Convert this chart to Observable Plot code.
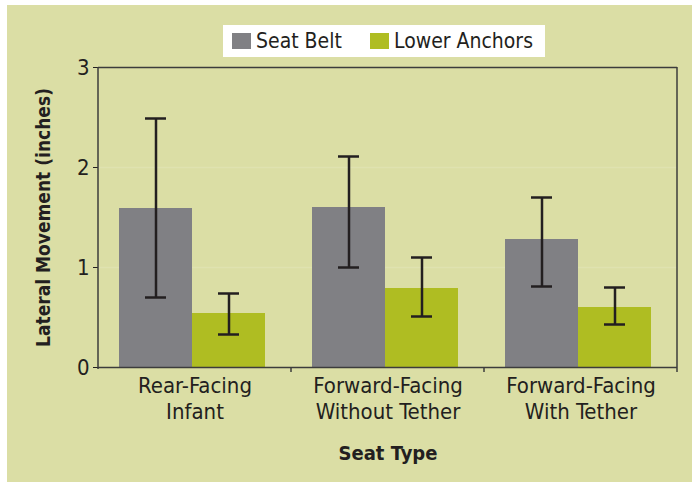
<!DOCTYPE html>
<html>
<head>
<meta charset="utf-8">
<script src="https://cdn.jsdelivr.net/npm/d3@7"></script>
<script src="https://cdn.jsdelivr.net/npm/@observablehq/plot@0.6"></script>
<style>
  body { margin: 0; background: #ffffff; }
  #panel { position: absolute; left: 7px; top: 5px; width: 685px; height: 477px; background: #dbdea5;
    font-family: "Liberation Sans Narrow", "DejaVu Sans Condensed", "Roboto", sans-serif; color: #231f20; }
  #legend { position: absolute; left: 216px; top: 20px; width: 322px; height: 32px; background: #ffffff; z-index: 2; }
  .item { position: absolute; top: 0; height: 32px; display: flex; align-items: center; font-size: 21px; }
  .sw { width: 19px; height: 16px; margin-right: 5px; }
  #chart { position: absolute; left: 0; top: 40px; z-index: 1; }
  #chart g[aria-label="fx-axis label"] text { font-weight: bold; font-size: 20px; }
  #chart g[aria-label="y-axis label"] text { font-weight: bold; font-size: 19px; }
</style>
</head>
<body>
<div id="panel">
  <div id="legend"></div>
  <div id="chart"></div>
</div>
<script>
const categories = ["Rear-Facing Infant", "Forward-Facing Without Tether", "Forward-Facing With Tether"];
const categoryLabels = ["Rear-Facing\nInfant", "Forward-Facing\nWithout Tether", "Forward-Facing\nWith Tether"];
const series = ["Seat Belt", "Lower Anchors"];
const seriesColors = ["#808084", "#afbd22"];
const seatBelt = [1.59, 1.60, 1.28];
const seatBeltLow = [0.70, 1.00, 0.81];
const seatBeltHigh = [2.49, 2.11, 1.70];
const lowerAnchors = [0.54, 0.79, 0.60];
const lowerAnchorsLow = [0.33, 0.51, 0.43];
const lowerAnchorsHigh = [0.74, 1.10, 0.80];
const yTicks = [0, 1, 2, 3];
const gridTicks = [1, 2];

const rows = categories.flatMap((c, i) => [
  {cat: c, series: series[0], value: seatBelt[i], lo: seatBeltLow[i], hi: seatBeltHigh[i]},
  {cat: c, series: series[1], value: lowerAnchors[i], lo: lowerAnchorsLow[i], hi: lowerAnchorsHigh[i]}
]);

// legend
const legend = document.getElementById("legend");
const legendLeft = [9, 147];
series.forEach((s, i) => {
  const it = document.createElement("div");
  it.className = "item";
  it.style.left = legendLeft[i] + "px";
  it.innerHTML = `<span class="sw" style="background:${seriesColors[i]}"></span><span>${s}</span>`;
  legend.appendChild(it);
});

const ink = "#231f20";
const chart = Plot.plot({
  width: 685,
  height: 437,
  marginTop: 22,
  marginBottom: 115,
  marginLeft: 90,
  marginRight: 15,
  style: {background: "transparent", fontFamily: "'Liberation Sans Narrow', 'DejaVu Sans Condensed', Roboto, sans-serif", fontSize: "22px", color: ink},
  fx: {domain: categories, padding: 0},
  x: {domain: series, paddingInner: 0, paddingOuter: 0.306, align: 0.44, axis: null},
  y: {domain: [0, 3], ticks: yTicks, tickFormat: d3.format("d"), tickSize: 5, tickPadding: 4, label: "Lateral Movement (inches)", labelAnchor: "center", labelArrow: "none", labelOffset: 62},
  color: {domain: series, range: seriesColors},
  marks: [
    Plot.gridY(gridTicks, {stroke: "#dfe2b0", strokeOpacity: 1, strokeWidth: 1.5}),
    Plot.barY(rows, {fx: "cat", x: "series", y: "value", fill: "series"}),
    Plot.ruleX(rows, {fx: "cat", x: "series", y1: "lo", y2: "hi", stroke: ink, strokeWidth: 2.5}),
    Plot.tickY(rows, {fx: "cat", x: "series", y: "lo", stroke: ink, strokeWidth: 2.5, insetLeft: 26, insetRight: 26}),
    Plot.tickY(rows, {fx: "cat", x: "series", y: "hi", stroke: ink, strokeWidth: 2.5, insetLeft: 26, insetRight: 26}),
    Plot.ruleY([0], {stroke: "#3c3c3c", strokeWidth: 1.5}),
    Plot.ruleY([3], {stroke: "#3c3c3c", strokeWidth: 1.5}),
    Plot.axisFx({anchor: "bottom", tickSize: 0, tickPadding: 7, lineHeight: 1.18, tickFormat: d => categoryLabels[categories.indexOf(d)],
      label: "Seat Type", labelAnchor: "center", labelArrow: "none", labelOffset: 92})
  ]
});
document.getElementById("chart").appendChild(chart);

// frame sides and facet boundary ticks, from the plot's own scales
const fx = chart.scale("fx"), y = chart.scale("y");
const svg = d3.select(chart.tagName.toLowerCase() === "svg" ? chart : chart.querySelector("svg"));
const y0 = y.apply(0), y3 = y.apply(3);
const left = fx.apply(categories[0]);
const right = fx.apply(categories[categories.length - 1]) + fx.bandwidth;
const g = svg.append("g").attr("stroke", "#3c3c3c").attr("stroke-width", 1.5);
g.append("line").attr("x1", left).attr("x2", left).attr("y1", y3).attr("y2", y0 + 2);
g.append("line").attr("x1", right).attr("x2", right).attr("y1", y3).attr("y2", y0 + 5);
categories.slice(0, -1).forEach(c => {
  const xb = fx.apply(c) + fx.bandwidth;
  g.append("line").attr("x1", xb).attr("x2", xb).attr("y1", y0).attr("y2", y0 + 5);
});
</script>
</body>
</html>
